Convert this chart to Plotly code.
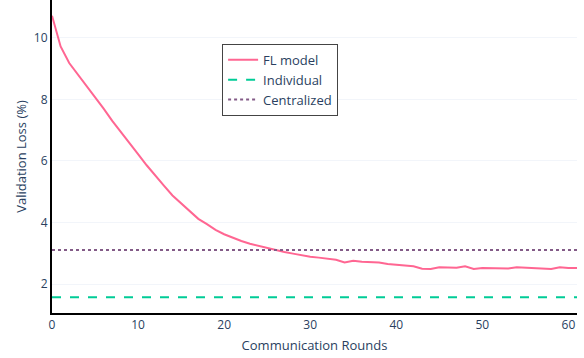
import plotly.graph_objects as go

# Communication rounds and validation loss of the federated model
rounds = list(range(62))
fl_loss = [
    10.72, 9.72, 9.18, 8.82, 8.45, 8.08, 7.70, 7.30, 6.93, 6.58,
    6.22, 5.86, 5.52, 5.20, 4.88, 4.62, 4.36, 4.12, 3.95, 3.76,
    3.62, 3.50, 3.40, 3.31, 3.24, 3.17, 3.10, 3.04, 2.99, 2.93,
    2.89, 2.86, 2.82, 2.79, 2.70, 2.76, 2.73, 2.71, 2.70, 2.65,
    2.63, 2.62, 2.58, 2.50, 2.49, 2.55, 2.54, 2.53, 2.58, 2.49,
    2.52, 2.52, 2.51, 2.51, 2.55, 2.53, 2.53, 2.51, 2.49, 2.55,
    2.52, 2.52,
]
individual_loss = 1.57
centralized_loss = 3.11

fig = go.Figure()
fig.add_trace(go.Scatter(
    x=rounds, y=fl_loss, mode="lines", name="FL model",
    line=dict(color="#FF6692", width=2),
))
fig.add_trace(go.Scatter(
    x=rounds, y=[individual_loss] * len(rounds), mode="lines", name="Individual",
    line=dict(color="#00CC96", width=2, dash="dash"),
))
fig.add_trace(go.Scatter(
    x=rounds, y=[centralized_loss] * len(rounds), mode="lines", name="Centralized",
    line=dict(color="#835B87", width=2, dash="dot"),
))

fig.update_layout(
    template="plotly_white",
    width=584, height=358,
    margin=dict(l=52, r=7, t=0, b=45),
    font=dict(family="Open Sans", size=12, color="#2a3f5f"),
    legend=dict(
        x=0.324, y=0.86, xanchor="left", yanchor="top",
        bordercolor="#444444", borderwidth=1, bgcolor="white",
        font=dict(size=13),
    ),
    xaxis=dict(
        title=dict(text="Communication Rounds", font=dict(size=13), standoff=8),
        showgrid=False, zeroline=False,
        showline=True, linecolor="black", linewidth=2,
        dtick=10,
    ),
    yaxis=dict(
        title=dict(text="Validation Loss (%)", font=dict(size=13), standoff=4),
        showgrid=True, gridcolor="#F2F5FA", zeroline=False,
        showline=True, linecolor="black", linewidth=2,
        dtick=2,
    ),
)

fig.write_html("out.html")
